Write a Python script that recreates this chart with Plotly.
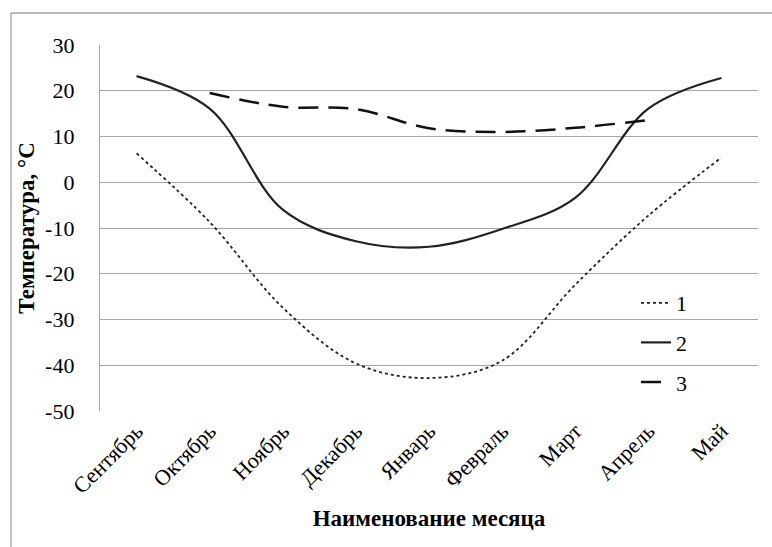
import plotly.graph_objects as go

months = ["Сентябрь", "Октябрь", "Ноябрь", "Декабрь", "Январь", "Февраль", "Март", "Апрель", "Май"]
series1 = [6.3, -8.7, -27.4, -39.6, -42.8, -39.0, -22.4, -7.3, 5.4]
series2 = [23.2, 16.1, -6.0, -12.9, -14.1, -10.2, -3.4, 16.1, 22.8]
series3 = [None, 19.5, 16.5, 16.0, 11.8, 11.0, 11.9, 13.6, None]
names = ["1", "2", "3"]
y_ticks = [30, 20, 10, 0, -10, -20, -30, -40, -50]
y_ticktext = ["30", "20", "10", "0", "-10", "-20", "-30", "-40", "-50"]

FONT = "Liberation Serif"
L, R, T, B = 100, 758, 45, 411
W, H = 772, 547

def px(x):
    return (x - L) / (R - L)

def py(y):
    return (B - y) / (B - T)

fig = go.Figure()
fig.add_trace(go.Scatter(x=months, y=series1, name=names[0], mode="lines", legendgroup="a",
                         line=dict(color="#222222", width=1.8, dash="dot", shape="spline", smoothing=1)))
fig.add_trace(go.Scatter(x=months, y=series2, name=names[1], mode="lines", legendgroup="b",
                         line=dict(color="#222222", width=2.2, shape="spline", smoothing=1)))
fig.add_trace(go.Scatter(x=months, y=series3, name=names[2], mode="lines", legendgroup="c",
                         line=dict(color="#111111", width=2.5, dash="20px,10px", shape="spline", smoothing=1)))

fig.update_layout(
    width=W, height=H,
    margin=dict(l=L, r=W - R, t=T, b=H - B),
    paper_bgcolor="white", plot_bgcolor="white",
    font=dict(family=FONT, size=22, color="black"),
    showlegend=True,
    legend=dict(x=px(636), y=py(282), xanchor="left", yanchor="top",
                bgcolor="rgba(0,0,0,0)", font=dict(family=FONT, size=22),
                tracegroupgap=8, itemwidth=30),
    xaxis=dict(type="category", tickangle=-45, showgrid=False, showline=False, automargin=False,
               ticks="", tickfont=dict(family=FONT, size=22), ticklabelstandoff=2,
               title=dict(text="<b>Наименование месяца</b>", font=dict(family=FONT, size=23), standoff=12),
               range=[-0.5, 8.5]),
    yaxis=dict(range=[-50, 30], tickvals=y_ticks, ticktext=y_ticktext,
               showgrid=True, gridcolor="#a6a6a6", gridwidth=1.3,
               zeroline=True, zerolinecolor="#a6a6a6", zerolinewidth=1.3, automargin=False,
               showline=True, linecolor="#a6a6a6", linewidth=1.3, ticks="",
               ticklabelstandoff=20, tickfont=dict(family=FONT, size=22),
               title=dict(text="<b>Температура, °C</b>", font=dict(family=FONT, size=23), standoff=4)),
    shapes=[
        dict(type="line", xref="paper", yref="paper", x0=px(11), x1=px(W + 5), y0=py(13), y1=py(13),
             line=dict(color="#a0a0a0", width=1.3)),
        dict(type="line", xref="paper", yref="paper", x0=px(11), x1=px(11), y0=py(13), y1=py(H + 5),
             line=dict(color="#a0a0a0", width=1.3)),
    ],
)

fig.write_html("out.html", config={"displayModeBar": False},
               post_script="document.body.style.margin='0';document.body.style.padding='0';")
